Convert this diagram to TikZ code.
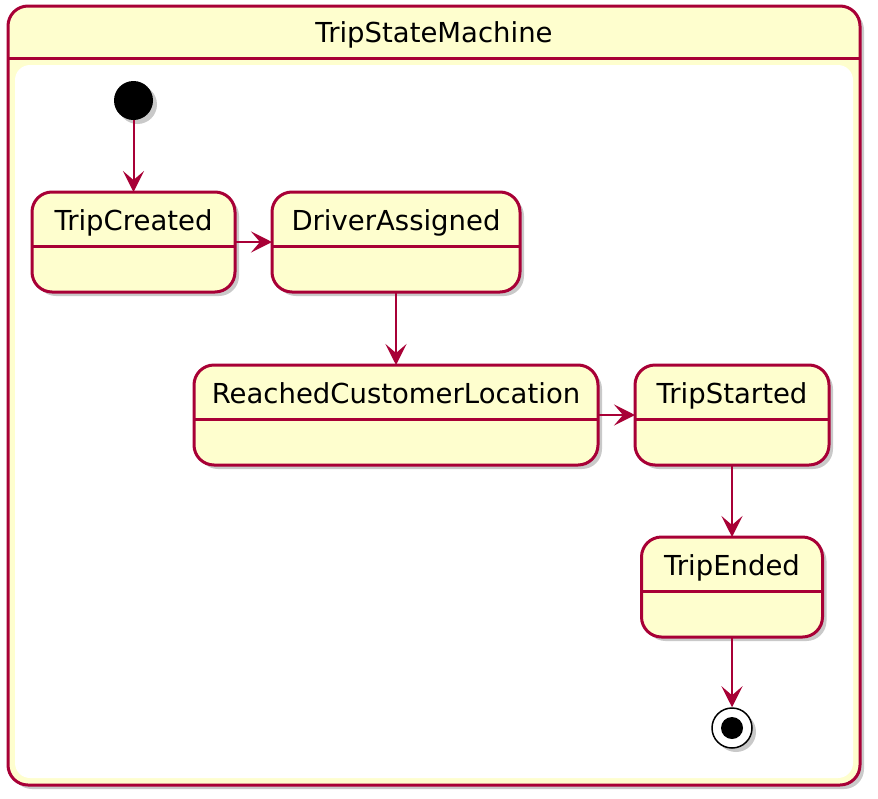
\documentclass[tikz,border=0pt]{standalone}
\usepackage{fontspec}
\setmainfont{DejaVu Sans}
\usetikzlibrary{arrows.meta,shadows}
\definecolor{borde}{HTML}{A80036}
\definecolor{relleno}{HTML}{FEFECE}
\begin{document}
\begin{tikzpicture}[x=1pt,y=-1pt,
  sombra/.style={drop shadow={shadow xshift=4pt,shadow yshift=-4pt,opacity=.35,fill=black!60}},
  estado/.style={draw=borde,fill=relleno,line width=3pt,rounded corners=20pt,minimum height=100pt,inner sep=0pt,outer sep=0pt,sombra},
  flecha/.style={color=borde,line width=2pt,-{Stealth[length=21pt,width=21pt,inset=9pt]}},
  texto/.style={font=\fontsize{27.5}{32}\selectfont,anchor=base}]
        \useasboundingbox (0,0) rectangle (878,798);
        \draw[draw=borde,fill=relleno,line width=3pt,rounded corners=20pt,sombra] (8,6) rectangle (860,785); % marco
        \fill[white,rounded corners=15pt] (15,65) rectangle (853,778);
        \draw[borde,line width=3pt] (8,58) -- (860,58);
        \node[texto] (titulo) at (434,42) {TripStateMachine};
        \foreach \n/\x/\y/\w/\t in {tc/133.5/242/203/TripCreated, da/396/242/248/DriverAssigned, rcl/396/415/404/ReachedCustomerLocation, ts/732/415/194/TripStarted, te/732/587/181/TripEnded}{
          \node[estado,minimum width=\w] (\n) at (\x,\y) {};
          \draw[borde,line width=3pt] ([yshift=-54pt]\n.north west) -- ([yshift=-54pt]\n.north east);
          \node[texto] (\n-t) at ([yshift=-38pt]\n.north) {\t};
        } % estados
        \node[circle,fill=black,minimum size=39pt,inner sep=0pt,sombra] (ini) at (133.5,100.5) {}; % inicio
        \node[circle,draw=black,fill=white,line width=1.5pt,minimum size=40pt,inner sep=0pt,sombra] (fin) at (732,728) {}; % fin
        \node[circle,fill=black,minimum size=22pt,inner sep=0pt] (fin-c) at (fin) {};
        \draw[flecha] (ini) -- (tc);
        \draw[flecha] (tc) -- (da);
        \draw[flecha] (da) -- (rcl);
        \draw[flecha] (rcl) -- (ts);
        \draw[flecha] (ts) -- (te);
        \draw[flecha] (te) -- (fin);
\end{tikzpicture}
\end{document}
